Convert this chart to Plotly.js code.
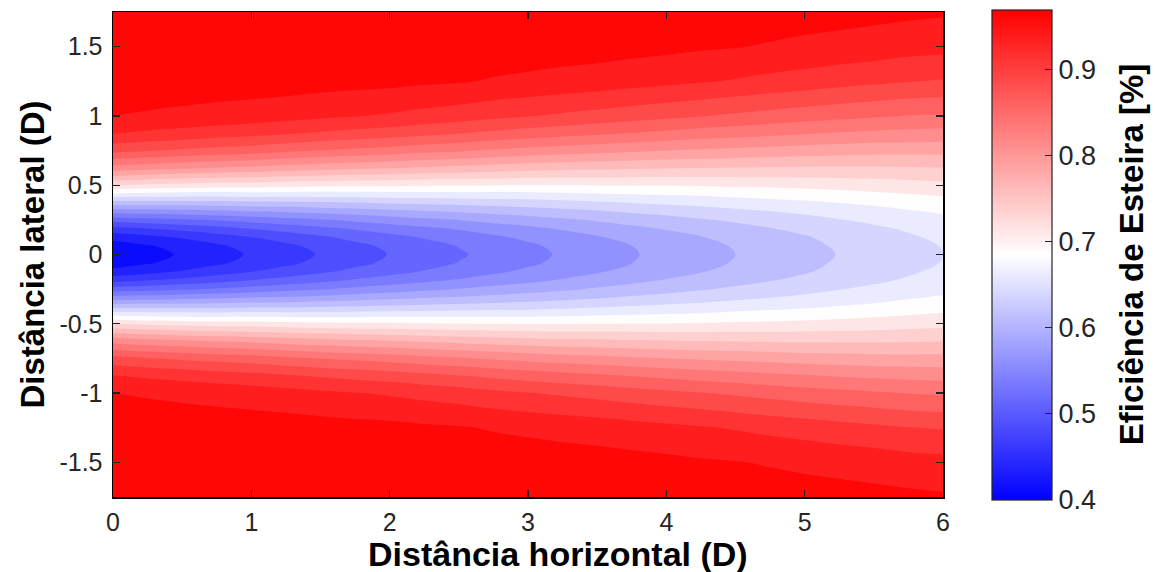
<!DOCTYPE html>
<html>
<head>
<meta charset="utf-8">
<script src="https://cdn.plot.ly/plotly-3.0.1.min.js"></script>
<style>html,body{margin:0;padding:0;background:#fff;}#chart{width:1155px;height:572px;}</style>
</head>
<body>
<div id="chart"></div>
<script>
// Horizontal distance (D)
var xDist = [0, 0.25, 0.5, 0.75, 1, 1.25, 1.5, 1.75, 2, 2.25, 2.5, 2.75, 3,
             3.25, 3.5, 3.75, 4, 4.25, 4.5, 4.75, 5, 5.25, 5.5, 5.75, 6];
// Lateral distance (D)
var yLat = [-1.75, -1.5, -1.25, -1, -0.875, -0.75, -0.625, -0.5, -0.375, -0.3125, -0.25, -0.1875,
            -0.125, -0.0625, 0, 0.0625, 0.125, 0.1875, 0.25, 0.3125, 0.375, 0.5, 0.625, 0.75,
            0.875, 1, 1.25, 1.5, 1.75];
// Wake efficiency, one row per lateral position (estimated from the figure)
var rowM175   = [0.970,0.970,0.970,0.970,0.970,0.970,0.970,0.970,0.970,0.969,0.969,0.969,0.968,0.968,0.967,0.967,0.966,0.965,0.963,0.962,0.960,0.959,0.957,0.955,0.953];
var rowM150   = [0.970,0.970,0.969,0.969,0.969,0.969,0.968,0.968,0.967,0.966,0.966,0.964,0.963,0.961,0.960,0.958,0.956,0.953,0.951,0.948,0.945,0.942,0.939,0.935,0.933];
var rowM125   = [0.967,0.966,0.965,0.964,0.963,0.962,0.960,0.958,0.957,0.954,0.952,0.948,0.945,0.942,0.939,0.935,0.931,0.927,0.923,0.918,0.914,0.909,0.905,0.901,0.898];
var rowM100   = [0.950,0.947,0.944,0.941,0.938,0.934,0.930,0.926,0.922,0.917,0.912,0.906,0.901,0.896,0.891,0.886,0.881,0.876,0.871,0.866,0.861,0.857,0.853,0.849,0.847];
var rowM0875  = [0.926,0.921,0.917,0.912,0.908,0.903,0.897,0.892,0.888,0.882,0.876,0.870,0.864,0.859,0.854,0.849,0.844,0.839,0.835,0.831,0.827,0.823,0.820,0.818,0.816];
var rowM075   = [0.883,0.877,0.871,0.866,0.862,0.855,0.849,0.844,0.839,0.833,0.828,0.822,0.817,0.812,0.808,0.804,0.800,0.797,0.794,0.791,0.788,0.786,0.784,0.783,0.783];
var rowM0625  = [0.816,0.810,0.804,0.799,0.795,0.789,0.784,0.780,0.777,0.772,0.768,0.764,0.760,0.757,0.756,0.753,0.752,0.750,0.749,0.748,0.747,0.747,0.747,0.748,0.749];
var rowM050   = [0.725,0.720,0.716,0.713,0.712,0.709,0.706,0.705,0.704,0.702,0.701,0.700,0.699,0.699,0.700,0.701,0.701,0.702,0.704,0.705,0.707,0.709,0.712,0.715,0.718];
var rowM0375  = [0.616,0.616,0.616,0.617,0.620,0.621,0.623,0.626,0.629,0.632,0.634,0.637,0.639,0.643,0.647,0.651,0.655,0.658,0.663,0.667,0.671,0.676,0.680,0.685,0.690];
var rowM03125 = [0.562,0.564,0.567,0.571,0.576,0.579,0.584,0.589,0.594,0.599,0.603,0.608,0.613,0.618,0.623,0.629,0.634,0.639,0.645,0.650,0.655,0.661,0.667,0.673,0.678];
var rowM025   = [0.511,0.516,0.522,0.528,0.535,0.542,0.548,0.556,0.563,0.570,0.576,0.583,0.589,0.596,0.603,0.610,0.616,0.623,0.629,0.636,0.642,0.649,0.655,0.662,0.669];
var rowM01875 = [0.468,0.475,0.483,0.491,0.501,0.510,0.519,0.528,0.537,0.545,0.553,0.562,0.569,0.578,0.586,0.594,0.602,0.609,0.617,0.624,0.631,0.639,0.646,0.653,0.661];
var rowM0125  = [0.434,0.443,0.453,0.464,0.475,0.485,0.496,0.507,0.517,0.527,0.536,0.546,0.555,0.564,0.573,0.583,0.591,0.599,0.608,0.616,0.623,0.632,0.640,0.647,0.655];
var rowM00625 = [0.412,0.423,0.434,0.446,0.459,0.470,0.482,0.494,0.505,0.516,0.526,0.536,0.546,0.556,0.566,0.575,0.584,0.593,0.602,0.611,0.619,0.628,0.635,0.643,0.651];
var row0      = [0.405,0.416,0.428,0.440,0.453,0.465,0.477,0.489,0.501,0.512,0.522,0.533,0.543,0.553,0.563,0.573,0.582,0.591,0.600,0.609,0.617,0.626,0.634,0.642,0.650];
var rowP00625 = [0.412,0.423,0.434,0.446,0.459,0.470,0.482,0.494,0.505,0.516,0.526,0.536,0.546,0.556,0.566,0.575,0.584,0.593,0.602,0.611,0.619,0.628,0.635,0.643,0.651];
var rowP0125  = [0.434,0.443,0.453,0.464,0.475,0.485,0.496,0.507,0.517,0.527,0.536,0.546,0.555,0.564,0.573,0.583,0.591,0.599,0.608,0.616,0.623,0.632,0.640,0.647,0.655];
var rowP01875 = [0.468,0.475,0.483,0.491,0.501,0.510,0.519,0.528,0.537,0.545,0.553,0.562,0.569,0.578,0.586,0.594,0.602,0.609,0.617,0.624,0.631,0.639,0.646,0.653,0.661];
var rowP025   = [0.511,0.516,0.522,0.528,0.535,0.542,0.548,0.556,0.563,0.570,0.576,0.583,0.589,0.596,0.603,0.610,0.616,0.623,0.629,0.636,0.642,0.649,0.655,0.662,0.669];
var rowP03125 = [0.562,0.564,0.567,0.571,0.576,0.579,0.584,0.589,0.594,0.599,0.603,0.608,0.613,0.618,0.623,0.629,0.634,0.639,0.645,0.650,0.655,0.661,0.667,0.673,0.678];
var rowP0375  = [0.616,0.616,0.616,0.617,0.620,0.621,0.623,0.626,0.629,0.632,0.634,0.637,0.639,0.643,0.647,0.651,0.655,0.658,0.663,0.667,0.671,0.676,0.680,0.685,0.690];
var rowP050   = [0.725,0.720,0.716,0.713,0.712,0.709,0.706,0.705,0.704,0.702,0.701,0.700,0.699,0.699,0.700,0.701,0.701,0.702,0.704,0.705,0.707,0.709,0.712,0.715,0.718];
var rowP0625  = [0.816,0.810,0.804,0.799,0.795,0.789,0.784,0.780,0.777,0.772,0.768,0.764,0.760,0.757,0.756,0.753,0.752,0.750,0.749,0.748,0.747,0.747,0.747,0.748,0.749];
var rowP075   = [0.883,0.877,0.871,0.866,0.862,0.855,0.849,0.844,0.839,0.833,0.828,0.822,0.817,0.812,0.808,0.804,0.800,0.797,0.794,0.791,0.788,0.786,0.784,0.783,0.783];
var rowP0875  = [0.926,0.921,0.917,0.912,0.908,0.903,0.897,0.892,0.888,0.882,0.876,0.870,0.864,0.859,0.854,0.849,0.844,0.839,0.835,0.831,0.827,0.823,0.820,0.818,0.816];
var rowP100   = [0.950,0.947,0.944,0.941,0.938,0.934,0.930,0.926,0.922,0.917,0.912,0.906,0.901,0.896,0.891,0.886,0.881,0.876,0.871,0.866,0.861,0.857,0.853,0.849,0.847];
var rowP125   = [0.967,0.966,0.965,0.964,0.963,0.962,0.960,0.958,0.957,0.954,0.952,0.948,0.945,0.942,0.939,0.935,0.931,0.927,0.923,0.918,0.914,0.909,0.905,0.901,0.898];
var rowP150   = [0.970,0.970,0.969,0.969,0.969,0.969,0.968,0.968,0.967,0.966,0.966,0.964,0.963,0.961,0.960,0.958,0.956,0.953,0.951,0.948,0.945,0.942,0.939,0.935,0.933];
var rowP175   = [0.970,0.970,0.970,0.970,0.970,0.970,0.970,0.970,0.970,0.969,0.969,0.969,0.968,0.968,0.967,0.967,0.966,0.965,0.963,0.962,0.960,0.959,0.957,0.955,0.953];

var xTickVals = [0, 1, 2, 3, 4, 5, 6];
var xTickText = ['0', '1', '2', '3', '4', '5', '6'];
var yTickVals = [-1.5, -1, -0.5, 0, 0.5, 1, 1.5];
var yTickText = ['-1.5', '-1', '-0.5', '0', '0.5', '1', '1.5'];
var cbTickVals = [0.4, 0.5, 0.6, 0.7, 0.8, 0.9];
var cbTickText = ['0.4', '0.5', '0.6', '0.7', '0.8', '0.9'];

var efficiency = [rowM175, rowM150, rowM125, rowM100, rowM0875, rowM075, rowM0625, rowM050,
  rowM0375, rowM03125, rowM025, rowM01875, rowM0125, rowM00625, row0, rowP00625, rowP0125,
  rowP01875, rowP025, rowP03125, rowP0375, rowP050, rowP0625, rowP075, rowP0875, rowP100,
  rowP125, rowP150, rowP175];

var FONT = '"Liberation Sans", Arial, Helvetica, sans-serif';

// continuous colour scale for the colour bar (0.4 blue, ~0.685 white, 0.97 red)
var cbScale = [[0, 'rgb(0,0,255)'], [0.5, 'rgb(255,255,255)'], [1, 'rgb(255,0,0)']];
// contour fill colour scale (fill mode maps the scale onto [start-size/2, end+size/2] = [0.3875, 0.9875])
var fillScale = [[0, 'rgb(0,0,255)'], [0.0208, 'rgb(0,0,255)'], [0.4958, 'rgb(255,255,255)'],
                 [0.9708, 'rgb(255,0,0)'], [1, 'rgb(255,0,0)']];

// pad the colour-bar labels so the bar title sits further right, as in the reference
var cbTickLabels = cbTickText.map(function (t) { return t + '\u00a0\u00a0'; });

var under = {
  type: 'heatmap', x: xDist, y: yLat, z: efficiency,
  zmin: 0.4, zmax: 0.97, zsmooth: 'best', colorscale: cbScale,
  hoverinfo: 'skip',
  colorbar: {
    thickness: 60, thicknessmode: 'pixels',
    len: 490, lenmode: 'pixels',
    x: 1.059, xanchor: 'left', xpad: 0,
    y: 0.5, yanchor: 'middle', ypad: 0,
    outlinewidth: 1.2, outlinecolor: '#222',
    ticks: 'inside', ticklen: 7, tickwidth: 1.2, tickcolor: '#222',
    tickvals: cbTickVals, ticktext: cbTickLabels,
    tickfont: {family: FONT, size: 27, color: '#262626'},
    title: {text: '<b>Eficiência de Esteira [%]</b>', side: 'right',
            font: {family: FONT, size: 33, color: '#000'}}
  }
};

var field = {
  type: 'contour', x: xDist, y: yLat, z: efficiency,
  colorscale: fillScale, showscale: false,
  autocontour: false,
  contours: {start: 0.4, end: 0.975, size: 0.025, coloring: 'fill', showlines: false},
  line: {width: 0, smoothing: 1},
  hoverinfo: 'skip'
};

var axisCommon = {
  showline: true, linecolor: '#000', linewidth: 1.5, mirror: 'allticks',
  ticks: 'inside', ticklen: 7, tickwidth: 1.2, tickcolor: '#222',
  showgrid: false, zeroline: false,
  tickfont: {family: FONT, size: 25, color: '#262626'}
};

var layout = {
  width: 1155, height: 572,
  margin: {l: 113, r: 212, t: 12, b: 75, pad: 0, autoexpand: false},
  paper_bgcolor: '#fff', plot_bgcolor: '#fff',
  showlegend: false,
  xaxis: Object.assign({}, axisCommon, {
    range: [0, 6], tickvals: xTickVals, ticktext: xTickText,
    ticklabelstandoff: 2
  }),
  yaxis: Object.assign({}, axisCommon, {
    range: [-1.75, 1.75], tickvals: yTickVals, ticktext: yTickText,
    ticklabelstandoff: 4,
    title: {text: '<b>Distância lateral (D)</b>', standoff: 5,
            font: {family: FONT, size: 33, color: '#000'}}
  }),
  annotations: [{
    text: '<b>Distância horizontal (D)</b>', xref: 'paper', yref: 'paper',
    x: 0.536, y: -0.118, xanchor: 'center', yanchor: 'middle', showarrow: false,
    font: {family: FONT, size: 34, color: '#000'}
  }]
};

Plotly.newPlot('chart', [under, field], layout, {staticPlot: true, displayModeBar: false});
</script>
</body>
</html>
